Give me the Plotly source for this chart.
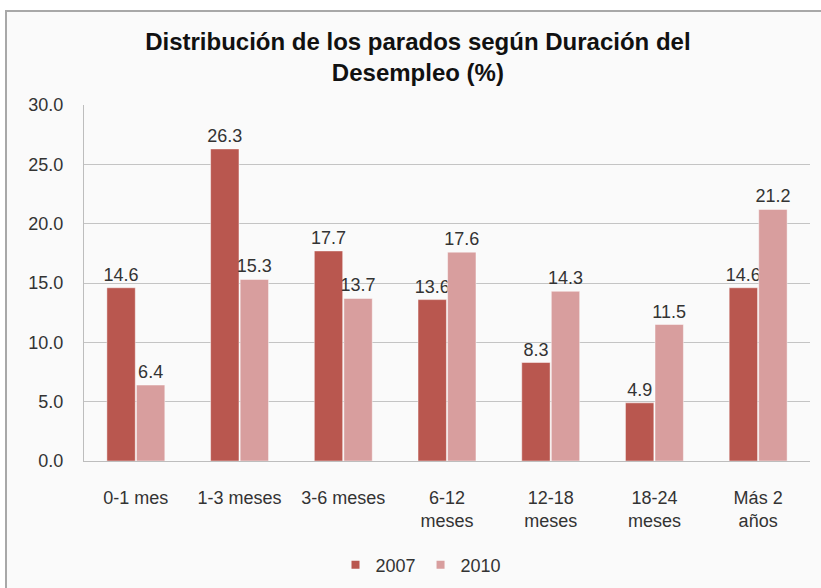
import plotly.graph_objects as go

categories = ["0-1 mes", "1-3 meses", "3-6 meses", "6-12<br>meses", "12-18<br>meses", "18-24<br>meses", "Más 2<br>años"]
values_2007 = [14.6, 26.3, 17.7, 13.6, 8.3, 4.9, 14.6]
values_2010 = [6.4, 15.3, 13.7, 17.6, 14.3, 11.5, 21.2]
y_ticks = [0, 5, 10, 15, 20, 25, 30]
series_names = ["2007", "2010"]
series_colors = ["#B9574F", "#D89E9E"]

FONT = "Liberation Sans, Arial, Helvetica, sans-serif"
TXT = "#333333"

fig = go.Figure()
for name, vals, col in zip(series_names, [values_2007, values_2010], series_colors):
    fig.add_trace(go.Bar(
        name=name, x=categories, y=vals, showlegend=False,
        marker=dict(color=col, line=dict(color="rgba(255,255,255,0.45)", width=1)),
        texttemplate="%{y:.1f}", textposition="outside", cliponaxis=False,
        constraintext="none",
        textfont=dict(size=18, color=TXT, family=FONT),
    ))
for name, col in zip(series_names, series_colors):
    fig.add_trace(go.Scatter(
        name=name, x=[None], y=[None], mode="markers",
        marker=dict(symbol="square", size=8, color=col), showlegend=True,
    ))

L, R, T, B = 84, 11, 105, 127
W, H = 821, 588
pw, ph = W - L - R, H - T - B

def px_x(x):
    return (x - L) / pw

def px_y(y):
    return (H - B - y) / ph

# light panel background + grey frame (top and left edges visible)
fig.add_shape(type="rect", xref="paper", yref="paper",
              x0=px_x(6), x1=px_x(830), y0=px_y(600), y1=px_y(11),
              line=dict(width=0), fillcolor="#FAFAFA", layer="below")
fig.add_shape(type="line", xref="paper", yref="paper",
              x0=px_x(5), x1=px_x(830), y0=px_y(11), y1=px_y(11),
              line=dict(color="#A8A8A8", width=2), layer="above")
fig.add_shape(type="line", xref="paper", yref="paper",
              x0=px_x(6), x1=px_x(6), y0=px_y(600), y1=px_y(10),
              line=dict(color="#A8A8A8", width=2), layer="above")

fig.update_layout(
    width=W, height=H,
    margin=dict(l=L, r=R, t=T, b=B),
    paper_bgcolor="white", plot_bgcolor="rgba(0,0,0,0)",
    font=dict(family=FONT, size=18, color=TXT),
    barmode="group", bargap=0.43, bargroupgap=0.04,
    title=dict(text="<b>Distribución de los parados según Duración del<br>Desempleo (%)</b>",
               x=0.509, xref="container", xanchor="center",
               y=1 - 50 / H, yref="container", yanchor="middle",
               font=dict(size=24, color="#111111", family=FONT)),
    showlegend=True,
    legend=dict(orientation="h", xref="container", yref="container",
                x=421 / W, xanchor="center", y=1 - 565 / H, yanchor="middle",
                font=dict(size=18, color=TXT), itemwidth=30, bgcolor="rgba(0,0,0,0)",
                tracegroupgap=0),
    yaxis=dict(range=[0, 30], tickvals=y_ticks, tickformat=".1f",
               showgrid=True, gridcolor="#C4C4C4", gridwidth=1,
               showline=True, linecolor="#BDBDBD", linewidth=1,
               ticks="outside", ticklen=16, tickcolor="rgba(0,0,0,0)",
               zeroline=False, tickfont=dict(size=18, color=TXT), automargin=False),
    xaxis=dict(showline=True, linecolor="#BDBDBD", linewidth=1,
               ticks="outside", ticklen=20, tickcolor="rgba(0,0,0,0)",
               tickangle=0, tickfont=dict(size=18, color=TXT), automargin=False),
)

fig.write_html("out.html", post_script="document.body.style.margin='0';",
               config={"displayModeBar": False})
